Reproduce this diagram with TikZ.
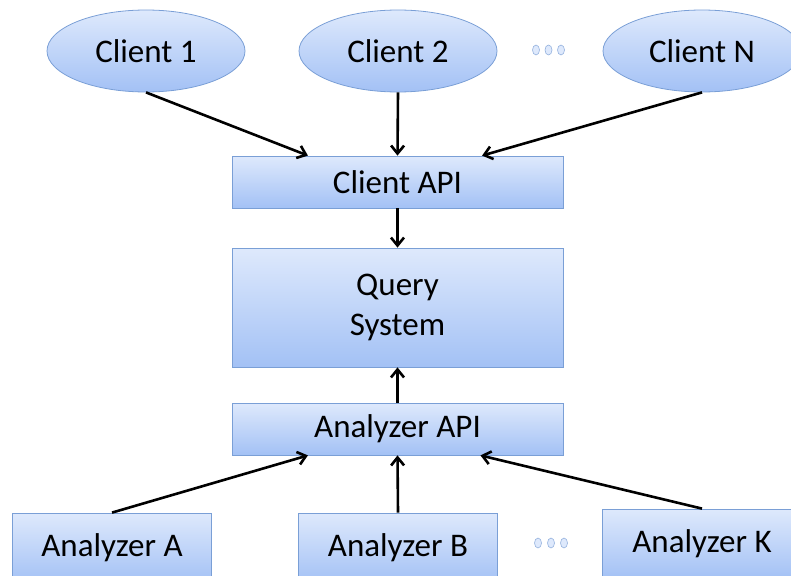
\documentclass[tikz,border=0pt]{standalone}
\usepackage{fontspec}
\setmainfont{Carlito}
\usetikzlibrary{shapes.geometric, arrows.meta, calc}

\definecolor{paletop}{HTML}{DEE9FC}
\definecolor{palebot}{HTML}{A3C1F5}
\definecolor{edgeblue}{HTML}{7A9FD6}

\begin{document}
\begin{tikzpicture}[x=1pt, y=-1pt,
    font=\fontsize{33}{40}\selectfont,
    client/.style={ellipse, draw=edgeblue, line width=0.8pt, top color=paletop, bottom color=palebot,
        minimum width=198pt, minimum height=82pt, inner sep=0pt},
    layer/.style={rectangle, draw=edgeblue, line width=0.8pt, top color=paletop, bottom color=palebot,
        minimum width=331pt, inner sep=0pt, align=center},
    analyzer/.style={rectangle, draw=edgeblue, line width=0.8pt, top color=paletop, bottom color=palebot,
        minimum width=199pt, inner sep=0pt},
    dot/.style={draw=edgeblue!80, line width=0.6pt, fill=paletop},
    flow/.style={-{Straight Barb[length=8pt, width=13pt, line width=2.6pt]}, line width=2.6pt, black}]
        \clip (0, 0) rectangle (791, 575);
        \node[client] (client1) at (146, 51) {Client 1};
        \node[client] (client2) at (398, 51) {Client 2};
        \node[client] (clientN) at (702, 51) {Client N};
        \foreach \dx in {536, 548.5, 561}
            \draw[dot] (\dx, 50) ellipse (3.5 and 5);
        \node[layer, minimum height=52pt] (clientapi) at (397.5, 182) {Client API};
        \node[layer, minimum height=119pt] (query) at (397.5, 307.5) {Query\\System};
        \node[layer, minimum height=52pt] (analyzerapi) at (397.5, 429) {Analyzer API};
        \node[analyzer, minimum height=70pt] (analyzerA) at (112, 548) {Analyzer A};
        \node[analyzer, minimum height=70pt] (analyzerB) at (398, 548) {Analyzer B};
        \node[analyzer, minimum height=70pt] (analyzerK) at (702, 544) {Analyzer K};
        \foreach \dx in {538, 551, 564}
            \draw[dot] (\dx, 543) ellipse (3.5 and 5);
        \draw[flow] (client1.south) -- ($(clientapi.north west)!0.23!(clientapi.north east)$);
        \draw[flow] (client2.south) -- (clientapi.north);
        \draw[flow] (clientN.south) -- ($(clientapi.north west)!0.755!(clientapi.north east)$);
        \draw[flow] (clientapi.south) -- (query.north);
        \draw[flow] (analyzerapi.north) -- (query.south);
        \draw[flow] (analyzerA.north) -- ($(analyzerapi.south west)!0.23!(analyzerapi.south east)$);
        \draw[flow] (analyzerB.north) -- (analyzerapi.south);
        \draw[flow] (analyzerK.north) -- ($(analyzerapi.south west)!0.75!(analyzerapi.south east)$);
\end{tikzpicture}
\end{document}
